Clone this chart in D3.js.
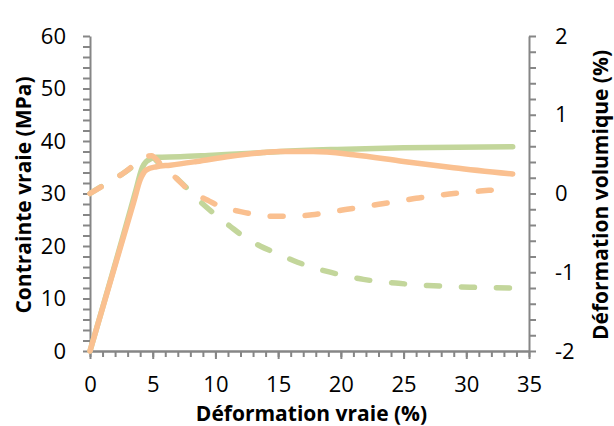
<!DOCTYPE html>
<html>
<head>
<meta charset="utf-8">
<script src="https://cdn.jsdelivr.net/npm/d3@7/dist/d3.min.js"></script>
<style>
  html, body { margin: 0; padding: 0; background: #fff; }
  svg { display: block; }
  .tick text { font-family: "Open Sans", sans-serif; font-size: 22px; fill: #000; }
  .axis-title { font-family: "Open Sans", sans-serif; font-weight: bold; font-size: 21px; fill: #000; }
</style>
</head>
<body>
<svg id="chart" width="614" height="426"></svg>
<script>
// ---- Data ----
const greenStressX = [0, 3.7, 4.1, 4.5, 5.3, 7.2, 9.8, 12.5, 15.2, 19.7, 25.0, 33.7];
const greenStressY = [0, 31.0, 34.5, 36.1, 36.9, 37.0, 37.3, 37.6, 38.0, 38.4, 38.7, 38.9];

const orangeStressX = [0, 3.5, 4.0, 4.5, 5.3, 6.4, 8.5, 11.2, 13.8, 15.2, 17.8, 21.0, 25.0, 29.0, 33.7];
const orangeStressY = [0, 28.5, 32.6, 34.5, 35.1, 35.4, 36.1, 37.1, 37.8, 38.0, 38.0, 37.4, 36.1, 34.9, 33.7];

const orangeVolX = [0, 2.5, 4.9, 5.6, 6.9, 7.9, 9.3, 10.5, 12.0, 13.3, 14.9, 16.2, 17.7, 19.0, 20.5, 21.8, 23.3, 24.6, 26.0, 27.5, 29.0, 30.3, 31.8, 33.2, 33.7];
const orangeVolY = [0, 0.24, 0.48, 0.38, 0.19, 0.04, -0.08, -0.17, -0.23, -0.27, -0.29, -0.29, -0.27, -0.24, -0.20, -0.17, -0.13, -0.10, -0.06, -0.03, 0.0, 0.02, 0.04, 0.06, 0.07];

const greenVolX = [0, 2.5, 4.9, 5.6, 7.2, 8.9, 10.0, 11.2, 12.2, 13.6, 14.9, 16.2, 17.4, 18.9, 20.2, 21.8, 23.1, 24.6, 25.9, 27.4, 28.8, 30.3, 31.6, 33.7];
const greenVolY = [0, 0.24, 0.46, 0.37, 0.15, -0.12, -0.27, -0.42, -0.54, -0.67, -0.76, -0.85, -0.92, -0.99, -1.04, -1.09, -1.12, -1.14, -1.16, -1.17, -1.18, -1.19, -1.195, -1.20];

const xTickLabels = [0, 5, 10, 15, 20, 25, 30, 35];
const yLeftTickLabels = [0, 10, 20, 30, 40, 50, 60];
const yRightTickLabels = [-2, -1, 0, 1, 2];

const xTitle = "Déformation vraie (%)";
const yLeftTitle = "Contrainte vraie (MPa)";
const yRightTitle = "Déformation volumique (%)";

// ---- Layout ----
const svg = d3.select("#chart");
const mLeft = 90, mRight = 529, mTop = 36, mBottom = 351;
const green = "#c3d69b", orange = "#fac090", axisColor = "#868686";

const x = d3.scaleLinear().domain([0, 35]).range([mLeft, mRight]);
const yL = d3.scaleLinear().domain([0, 60]).range([mBottom, mTop]);
const yR = d3.scaleLinear().domain([-2, 2]).range([mBottom, mTop]);

function styleAxis(g) {
  g.select(".domain").attr("stroke", axisColor).attr("stroke-width", 2);
  g.selectAll(".tick line").attr("stroke", axisColor).attr("stroke-width", 2);
}

// X axis: minor ticks
svg.append("g").attr("transform", `translate(0,${mBottom})`)
  .call(d3.axisBottom(x).tickValues(d3.range(0, 36, 1)).tickSize(6).tickSizeOuter(0).tickFormat(""))
  .call(styleAxis);
// X axis: major ticks + labels
svg.append("g").attr("transform", `translate(0,${mBottom})`)
  .call(d3.axisBottom(x).tickValues(xTickLabels).tickSize(8).tickSizeOuter(0).tickPadding(17).tickFormat(d3.format("d")))
  .call(styleAxis);

// Left axis
svg.append("g").attr("transform", `translate(${mLeft},0)`)
  .call(d3.axisLeft(yL).tickValues(d3.range(0, 61, 2)).tickSize(7).tickSizeOuter(0).tickPadding(17)
    .tickFormat(d => yLeftTickLabels.includes(d) ? d : ""))
  .call(styleAxis);

// Right axis
const rightTicks = d3.range(-10, 11, 1).map(v => v / 5);
svg.append("g").attr("transform", `translate(${mRight},0)`)
  .call(d3.axisRight(yR).tickValues(rightTicks).tickSize(7).tickSizeOuter(0).tickPadding(19)
    .tickFormat(d => yRightTickLabels.includes(d) ? d3.format("d")(d).replace("−", "-") : ""))
  .call(styleAxis);

// Titles
svg.append("text").attr("class", "axis-title").attr("text-anchor", "middle")
  .attr("x", (mLeft + mRight) / 2 + 2).attr("y", 421).text(xTitle);
svg.append("text").attr("class", "axis-title").attr("text-anchor", "middle")
  .attr("transform", `translate(31,195) rotate(-90)`).text(yLeftTitle);
svg.append("text").attr("class", "axis-title").attr("text-anchor", "middle")
  .attr("transform", `translate(608,195) rotate(-90)`).text(yRightTitle);

// Lines
const zip = (xs, ys) => xs.map((v, i) => [v, ys[i]]);
const lineL = d3.line().x(d => x(d[0])).y(d => yL(d[1])).curve(d3.curveMonotoneX);
const lineR = d3.line().x(d => x(d[0])).y(d => yR(d[1])).curve(d3.curveMonotoneX);

const plot = svg.append("g").attr("fill", "none").attr("stroke-width", 5.5)
  .attr("stroke-linecap", "round").attr("stroke-linejoin", "round");

plot.append("path").attr("d", lineL(zip(greenStressX, greenStressY))).attr("stroke", green);
plot.append("path").attr("d", lineR(zip(greenVolX, greenVolY))).attr("stroke", green)
  .attr("stroke-dasharray", "13,22");
plot.append("path").attr("d", lineL(zip(orangeStressX, orangeStressY))).attr("stroke", orange);
plot.append("path").attr("d", lineR(zip(orangeVolX, orangeVolY))).attr("stroke", orange)
  .attr("stroke-dasharray", "13,22");
</script>
</body>
</html>
